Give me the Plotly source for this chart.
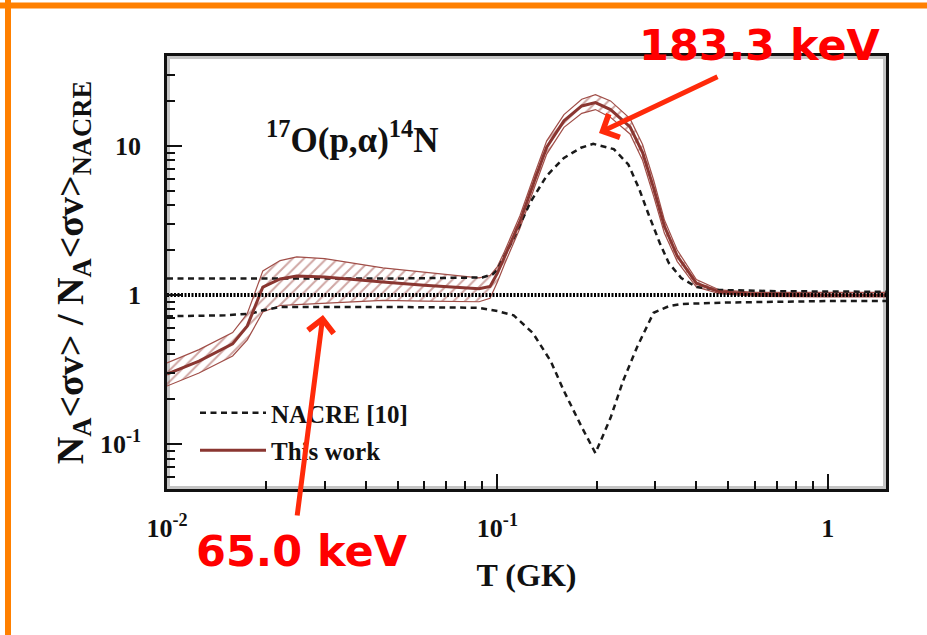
import math
import plotly.graph_objects as go

# ---------------------------------------------------------------------------
# Rate ratios N_A<sv> / N_A<sv>_NACRE for 17O(p,a)14N versus temperature T (GK)
# ---------------------------------------------------------------------------

# NACRE upper limit (dashed)
nacre_hi_T = [0.01, 0.05, 0.09, 0.097, 0.1, 0.112, 0.126, 0.141, 0.159, 0.179,
              0.195, 0.225, 0.249, 0.268, 0.287, 0.31, 0.33, 0.36, 0.40, 0.47,
              0.7, 1.0, 1.5]
nacre_hi = [1.29, 1.29, 1.31, 1.38, 1.48, 2.4, 4.2, 6.3, 8.3, 9.7,
            10.3, 9.5, 7.5, 5.2, 3.45, 2.23, 1.64, 1.30, 1.13, 1.08,
            1.06, 1.05, 1.05]

# NACRE lower limit (dashed)
nacre_lo_T = [0.01, 0.015, 0.018, 0.0195, 0.022, 0.05, 0.088, 0.1, 0.112, 0.128,
              0.145, 0.159, 0.18, 0.198, 0.22, 0.24, 0.265, 0.297, 0.33, 0.36,
              0.5, 1.0, 1.5]
nacre_lo = [0.72, 0.73, 0.75, 0.79, 0.83, 0.83, 0.82, 0.78, 0.73, 0.556,
            0.36, 0.227, 0.13, 0.087, 0.15, 0.265, 0.45, 0.76, 0.84, 0.87,
            0.89, 0.91, 0.91]

# This work: recommended rate and its upper / lower limits
tw_T = [0.01, 0.0125, 0.0158, 0.0175, 0.0195, 0.022, 0.0247, 0.03, 0.045, 0.06,
        0.088, 0.095, 0.1, 0.105, 0.117, 0.13, 0.141, 0.159, 0.18, 0.198,
        0.22, 0.252, 0.275, 0.297, 0.32, 0.35, 0.40, 0.47, 0.6, 1.0, 1.5]
tw_mid = [0.295, 0.36, 0.47, 0.62, 1.13, 1.28, 1.34, 1.32, 1.22, 1.16,
          1.10, 1.14, 1.40, 1.8, 3.1, 6.0, 9.8, 14.7, 18.5, 19.5,
          17.5, 13.4, 9.0, 5.2, 2.9, 1.83, 1.2, 1.05, 1.01, 1.0, 1.0]
tw_hi = [0.35, 0.43, 0.56, 0.75, 1.45, 1.7, 1.8, 1.75, 1.52, 1.42,
         1.30, 1.35, 1.55, 1.95, 3.4, 6.6, 10.8, 16.2, 20.5, 22.0,
         20.0, 15.2, 10.2, 5.9, 3.2, 2.0, 1.27, 1.08, 1.04, 1.04, 1.04]
tw_lo = [0.245, 0.30, 0.39, 0.50, 0.77, 0.85, 0.86, 0.88, 0.92, 0.91,
         0.90, 0.95, 1.22, 1.6, 2.8, 5.4, 8.8, 13.3, 16.5, 17.5,
         15.5, 12.0, 8.0, 4.6, 2.6, 1.68, 1.13, 1.02, 0.98, 0.97, 0.97]

# Unity reference line
unity_T = [0.01, 1.5]
unity = [1.0, 1.0]

# Axis ticks
x_ticks = [0.01, 0.1, 1]
x_ticktext = ["10<sup>-2</sup>", "10<sup>-1</sup>", "1"]
y_ticks = [0.1, 1, 10]
y_ticktext = ["10<sup>-1</sup>", "1", "10"]

# Canvas / plotting-area geometry (pixels)
W, H = 927, 635
L, R, T, B = 167, 886, 56, 489

SERIF = "Liberation Serif"
BROWN = "#8a3631"
BROWN_LIGHT = "#a04e48"


def px(xp):
    return (xp - L) / (R - L)


def py(yp):
    return (B - yp) / (B - T)


fig = go.Figure()

# hatched uncertainty band of this work
fig.add_trace(go.Scatter(
    x=tw_T, y=tw_lo, mode="lines", showlegend=False,
    line=dict(color=BROWN_LIGHT, width=1.2), hoverinfo="skip"))
fig.add_trace(go.Scatter(
    x=tw_T, y=tw_hi, mode="lines", showlegend=False, fill="tonexty",
    fillcolor="rgba(0,0,0,0)",
    fillpattern=dict(shape="/", fgcolor=BROWN_LIGHT, bgcolor="rgba(0,0,0,0)",
                     size=8, solidity=0.25),
    line=dict(color=BROWN_LIGHT, width=1.2), hoverinfo="skip"))

# NACRE limits
fig.add_trace(go.Scatter(
    x=nacre_hi_T, y=nacre_hi, mode="lines", name="NACRE [10]",
    legendgroup="nacre", legendrank=1,
    line=dict(color="#1a1a1a", width=2.5, dash="6px,4.5px")))
fig.add_trace(go.Scatter(
    x=nacre_lo_T, y=nacre_lo, mode="lines", showlegend=False,
    legendgroup="nacre",
    line=dict(color="#1a1a1a", width=2.5, dash="6px,4.5px")))

# recommended rate of this work
fig.add_trace(go.Scatter(
    x=tw_T, y=tw_mid, mode="lines", name="This work",
    legendgroup="tw", legendrank=2,
    line=dict(color=BROWN, width=3)))

# dotted unity line on top
fig.add_trace(go.Scatter(
    x=unity_T, y=unity, mode="lines", showlegend=False, hoverinfo="skip",
    line=dict(color="black", width=4, dash="2px,1.5px")))

minor_x = [k * 10.0 ** e for e in (-2, -1) for k in range(2, 10)]
minor_y = [k * 10.0 ** e for e in (-2, -1, 0, 1) for k in range(2, 10)]
minor_y = [v for v in minor_y if 0.05 <= v <= 40]

axis_common = dict(
    type="log", showgrid=False, zeroline=False,
    showline=True, mirror=True, linecolor="#111", linewidth=2.5,
    ticks="inside", ticklen=15, tickwidth=2, tickcolor="#111",
    tickfont=dict(family=SERIF, size=26, color="#111", weight="bold"),
)

fig.update_layout(
    width=W, height=H, autosize=False,
    margin=dict(l=L, r=W - R, t=T, b=H - B),
    paper_bgcolor="white", plot_bgcolor="white",
    showlegend=True,
    legend=dict(
        x=px(195), y=py(390), xanchor="left", yanchor="top",
        bgcolor="rgba(0,0,0,0)", borderwidth=0,
        font=dict(family=SERIF, size=25, color="#111", weight="bold"),
        itemwidth=66, tracegroupgap=2, traceorder="grouped",
    ),
    xaxis=dict(
        axis_common,
        range=[-2, math.log10(1.5)],
        tickvals=x_ticks, ticktext=x_ticktext, ticklabelstandoff=14,
        minor=dict(tickvals=minor_x, ticks="inside", ticklen=8,
                   tickwidth=2, tickcolor="#111"),
        title=dict(text="T (GK)", standoff=22,
                   font=dict(family=SERIF, size=32, color="#111", weight="bold")),
    ),
    yaxis=dict(
        axis_common,
        range=[math.log10(0.05), math.log10(40)],
        tickvals=y_ticks, ticktext=y_ticktext, ticklabelstandoff=18,
        minor=dict(tickvals=minor_y, ticks="inside", ticklen=8,
                   tickwidth=2, tickcolor="#111"),
        title=dict(
            text="N<sub>A</sub>&lt;σv&gt; / N<sub>A</sub>&lt;σv&gt;<sub>NACRE</sub>",
            standoff=5,
            font=dict(family=SERIF, size=38, color="#111", weight="bold")),
    ),
)

# soft grey halo around the frame
fig.add_shape(type="rect", xref="paper", yref="paper", x0=0, y0=0, x1=1, y1=1,
              line=dict(color="rgba(60,60,60,0.3)", width=6), layer="below")

# orange slide border (top and left edges)
fig.add_shape(type="line", xref="paper", yref="paper",
              x0=px(0), x1=px(W), y0=py(5.5), y1=py(5.5),
              line=dict(color="#ff8000", width=6))
fig.add_shape(type="line", xref="paper", yref="paper",
              x0=px(8), x1=px(8), y0=py(0), y1=py(H),
              line=dict(color="#ff8000", width=6))

# reaction label
fig.add_annotation(
    xref="paper", yref="paper", x=px(352), y=py(137), showarrow=False,
    xanchor="center", yanchor="middle",
    text="<sup>17</sup>O(p,α)<sup>14</sup>N",
    font=dict(family=SERIF, size=35, color="#111", weight="bold"))

# resonance call-outs
RED_FONT = dict(family="DejaVu Sans", size=43, color="#ff0000", weight="bold")
fig.add_annotation(xref="paper", yref="paper", x=px(760), y=py(45),
                   xanchor="center", yanchor="middle",
                   showarrow=False, text="183.3 keV", font=RED_FONT)
fig.add_annotation(xref="paper", yref="paper", x=px(302), y=py(551),
                   xanchor="center", yanchor="middle",
                   showarrow=False, text="65.0 keV", font=RED_FONT)

ARROW = "#ff2a0a"
fig.add_annotation(xref="paper", yref="paper", x=px(599), y=py(133),
                   ax=120, ay=-57, text="", showarrow=True,
                   arrowhead=4, arrowsize=1.0, arrowwidth=5, arrowcolor=ARROW,
                   standoff=0)
fig.add_annotation(xref="paper", yref="paper", x=px(323), y=py(315),
                   ax=-26, ay=202, text="", showarrow=True,
                   arrowhead=4, arrowsize=1.0, arrowwidth=5, arrowcolor=ARROW,
                   standoff=0)

fig.write_html("out.html")
